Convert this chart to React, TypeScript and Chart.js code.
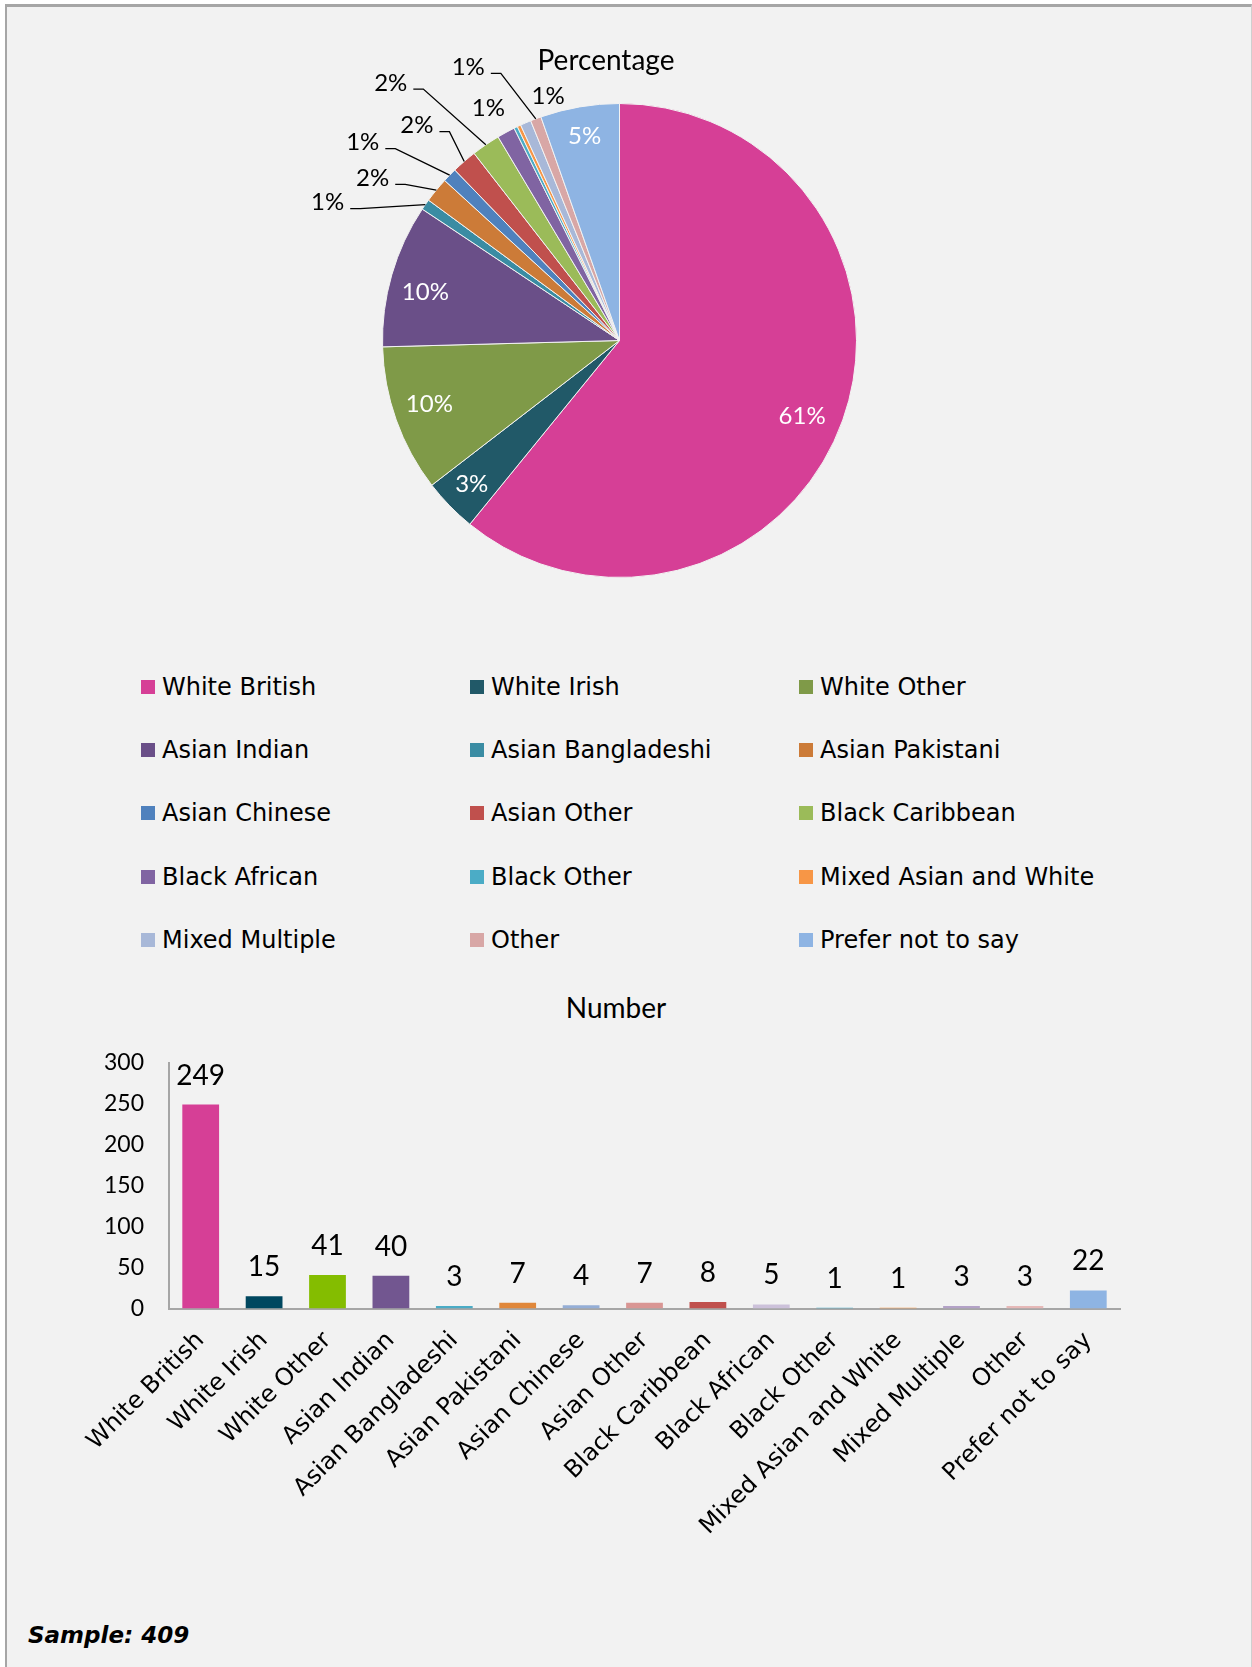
import React, { useEffect, useRef } from 'react';
import { Chart, registerables } from 'chart.js';

Chart.register(...registerables);

// ---------- data ----------
const categories = [
  'White British', 'White Irish', 'White Other', 'Asian Indian', 'Asian Bangladeshi',
  'Asian Pakistani', 'Asian Chinese', 'Asian Other', 'Black Caribbean', 'Black African',
  'Black Other', 'Mixed Asian and White', 'Mixed Multiple', 'Other', 'Prefer not to say',
];
const counts = [249, 15, 41, 40, 3, 7, 4, 7, 8, 5, 1, 1, 3, 3, 22];
const percentLabels = ['61%', '3%', '10%', '10%', '1%', '2%', '1%', '2%', '2%', '1%', '', '', '1%', '1%', '5%'];
const yTicks = [0, 50, 100, 150, 200, 250, 300];
const sampleSize = 409;

// ---------- styles ----------
const pieColors = [
  '#D63F96', '#215968', '#7F9A48', '#6A4F88', '#3A8CA3', '#CC7B38', '#4F81BD', '#C0504D',
  '#9BBB59', '#8064A2', '#4BACC6', '#F79646', '#A8B8D8', '#D8A7A6', '#8EB4E3',
];
const barColors = [
  '#D63F96', '#00475F', '#84BD00', '#725690', '#4BACC6', '#E0873A', '#95AED6', '#D99694',
  '#C0504D', '#CCC1DA', '#4BACC6', '#F79646', '#B3A2C7', '#E6B9B8', '#8EB4E3',
];
// label placement relative to each slice: r = radius factor, shift = degrees from mid-angle
const pieLabelPlacement: any[] = [
  { r: 0.834, shift: 2.9 }, { r: 0.87 }, { r: 0.846, shift: 1.1 }, { r: 0.844, shift: -2.1 },
  { r: 1.362, shift: -9.7, leader: true },
  { r: 1.246, shift: -6.1, leader: true },
  { r: 1.368, shift: -6.6, leader: true },
  { r: 1.246, shift: -2.4, leader: true },
  { r: 1.453, shift: -7.3, leader: true },
  { r: 1.124, shift: -0.9 },
  null, null,
  { r: 1.072, shift: 7.0 },
  { r: 1.317, shift: -8.3, leader: true },
  { r: 0.873 },
];

const LATO = 'Lato, "Open Sans", sans-serif';
const DEJAVU = '"DejaVu Sans", Verdana, sans-serif';

const pieLabelPlugin = {
  id: 'pieLabels',
  afterDatasetsDraw(chart: any) {
    const ctx = chart.ctx;
    const meta = chart.getDatasetMeta(0);
    ctx.save();
    ctx.font = `24px ${LATO}`;
    ctx.textAlign = 'center';
    ctx.textBaseline = 'middle';
    meta.data.forEach((arc: any, i: number) => {
      const p = pieLabelPlacement[i];
      const text = percentLabels[i];
      if (!p || !text) return;
      const { x, y, startAngle, endAngle, outerRadius } = arc.getProps(
        ['x', 'y', 'startAngle', 'endAngle', 'outerRadius'], true);
      const mid = (startAngle + endAngle) / 2;
      const a = mid + ((p.shift || 0) * Math.PI) / 180;
      const lx = x + Math.cos(a) * outerRadius * p.r;
      const ly = y + Math.sin(a) * outerRadius * p.r;
      ctx.fillStyle = p.r > 1 ? '#000000' : '#FFFFFF';
      ctx.fillText(text, lx, ly);
      if (p.leader) {
        const w = ctx.measureText(text).width;
        const sx = lx + w / 2 + 6;
        const sy = ly + 6;
        ctx.beginPath();
        ctx.moveTo(sx, sy);
        ctx.lineTo(sx + 10, sy);
        ctx.lineTo(x + Math.cos(mid) * outerRadius, y + Math.sin(mid) * outerRadius);
        ctx.strokeStyle = '#000000';
        ctx.lineWidth = 1.3;
        ctx.stroke();
      }
    });
    ctx.restore();
  },
};

const barLabelPlugin = {
  id: 'barLabels',
  afterDatasetsDraw(chart: any) {
    const ctx = chart.ctx;
    const meta = chart.getDatasetMeta(0);
    ctx.save();
    ctx.font = `28px ${LATO}`;
    ctx.textAlign = 'center';
    ctx.textBaseline = 'alphabetic';
    ctx.fillStyle = '#000000';
    meta.data.forEach((bar: any, i: number) => {
      ctx.fillText(String(counts[i]), bar.x, bar.y - 20);
    });
    ctx.restore();
  },
};

export default function App() {
  const pieRef = useRef<HTMLCanvasElement>(null);
  const barRef = useRef<HTMLCanvasElement>(null);

  useEffect(() => {
    document.body.style.margin = '0';
    document.body.style.overflow = 'hidden';
    const pie = new Chart(pieRef.current as HTMLCanvasElement, {
      type: 'pie',
      data: {
        labels: categories,
        datasets: [{
          data: counts,
          backgroundColor: pieColors,
          borderColor: '#F2F2F2',
          borderWidth: 1,
        }],
      },
      options: {
        animation: false,
        responsive: false,
        layout: { padding: { left: 382, right: 395, top: 63, bottom: 22 } },
        plugins: { legend: { display: false }, tooltip: { enabled: false }, title: { display: false } },
      },
      plugins: [pieLabelPlugin],
    } as any);

    const bar = new Chart(barRef.current as HTMLCanvasElement, {
      type: 'bar',
      data: {
        labels: categories,
        datasets: [{
          data: counts,
          backgroundColor: barColors,
          barPercentage: 0.58,
          categoryPercentage: 1,
        }],
      },
      options: {
        animation: false,
        responsive: false,
        layout: { padding: { left: 0, right: 132, top: 0, bottom: 0 } },
        plugins: { legend: { display: false }, tooltip: { enabled: false } },
        scales: {
          x: {
            grid: { display: false, drawTicks: false },
            border: { display: true, color: '#A6A6A6', width: 2 },
            ticks: {
              autoSkip: false, minRotation: 45, maxRotation: 45, padding: 18,
              color: '#000000', font: { family: DEJAVU, size: 24 },
            },
            afterFit(s: any) { s.height = 275.5; },
          },
          y: {
            min: yTicks[0],
            max: yTicks[yTicks.length - 1],
            grid: { display: false, drawTicks: false },
            border: { display: true, color: '#A6A6A6', width: 2 },
            ticks: { padding: 25, color: '#000000', font: { family: LATO, size: 23 } },
            afterBuildTicks(s: any) { s.ticks = yTicks.map((v) => ({ value: v })); },
            afterFit(s: any) { s.width = 169; },
          },
        },
      },
      plugins: [barLabelPlugin],
    } as any);

    return () => { pie.destroy(); bar.destroy(); };
  }, []);

  const colX = [141, 470, 799];
  const rowY = [687, 750, 813, 877, 940];

  return (
    <div style={{ position: 'relative', width: 1252, height: 1667, overflow: 'hidden', background: '#FFFFFF' }}>
      <div style={{
        position: 'absolute', left: 5, top: 4, width: 1244, height: 1660,
        borderTop: '3px solid #A6A6A6', borderLeft: '2px solid #A6A6A6', borderRight: '1px solid #CFCFCF',
        background: '#F2F2F2',
      }} />
      <canvas ref={pieRef} width={1252} height={560}
        style={{ position: 'absolute', left: 0, top: 40, width: 1252, height: 560 }} />
      <div style={{
        position: 'absolute', left: 406, width: 400, top: 45, textAlign: 'center',
        font: `28px/28px ${LATO}`, color: '#000',
      }}>Percentage</div>

      {categories.map((c, i) => (
        <div key={c} style={{
          position: 'absolute', left: colX[i % 3], top: rowY[Math.floor(i / 3)] - 12, height: 24,
          display: 'flex', alignItems: 'center', whiteSpace: 'nowrap',
        }}>
          <span style={{ display: 'inline-block', width: 14, height: 14, background: pieColors[i], marginRight: 7 }} />
          <span style={{ font: `24px/24px ${DEJAVU}`, color: '#000' }}>{c}</span>
        </div>
      ))}

      <div style={{
        position: 'absolute', left: 416, width: 400, top: 993, textAlign: 'center',
        font: `28px/28px ${LATO}`, color: '#000',
      }}>Number</div>
      <canvas ref={barRef} width={1252} height={560}
        style={{ position: 'absolute', left: 0, top: 1024, width: 1252, height: 560 }} />

      <div style={{
        position: 'absolute', left: 28, top: 1624, whiteSpace: 'nowrap',
        font: `italic bold 23px/23px ${DEJAVU}`, color: '#000',
      }}>Sample: {sampleSize}</div>
    </div>
  );
}
